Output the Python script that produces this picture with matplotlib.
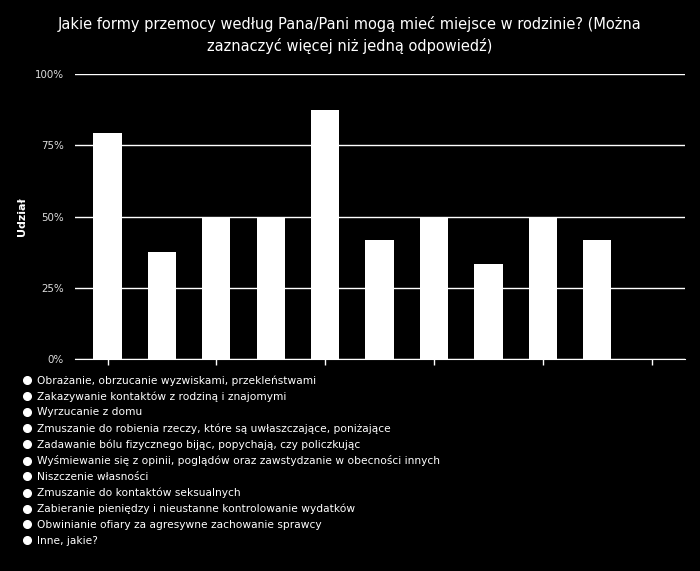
import matplotlib.pyplot as plt
from matplotlib.lines import Line2D

categories = [
    'Obrażanie, obrzucanie wyzwiskami, przekleństwami',
    'Zakazywanie kontaktów z rodziną i znajomymi',
    'Wyrzucanie z domu',
    'Zmuszanie do robienia rzeczy, które są uwłaszczające, poniżające',
    'Zadawanie bólu fizycznego bijąc, popychają, czy policzkując',
    'Wyśmiewanie się z opinii, poglądów oraz zawstydzanie w obecności innych',
    'Niszczenie własności',
    'Zmuszanie do kontaktów seksualnych',
    'Zabieranie pieniędzy i nieustanne kontrolowanie wydatków',
    'Obwinianie ofiary za agresywne zachowanie sprawcy',
    'Inne, jakie?',
]
shares = [79.2, 37.5, 50.0, 50.0, 87.5, 41.7, 50.0, 33.3, 50.0, 41.7, 0.0]
yticks = [0, 25, 50, 75, 100]
ytick_labels = ['0%', '25%', '50%', '75%', '100%']
title = ('Jakie formy przemocy według Pana/Pani mogą mieć miejsce w rodzinie? (Można\n'
         'zaznaczyć więcej niż jedną odpowiedź)')

fig = plt.figure(figsize=(7, 5.71), dpi=100, facecolor='black')
ax = fig.add_axes([0.107, 0.371, 0.872, 0.499])
ax.set_facecolor('black')

x = list(range(len(categories)))
ax.bar(x, shares, width=0.52, color='white', zorder=3)

ax.set_xlim(-0.6, 10.62)
ax.set_ylim(0, 100)
ax.set_yticks(yticks)
ax.set_yticklabels(ytick_labels, color='#dddddd', fontsize=7.4)
ax.yaxis.grid(True, color='white', linewidth=1)
ax.tick_params(axis='y', length=0, pad=8)
ax.set_xticks(x[::2])
ax.set_xticklabels([])
ax.tick_params(axis='x', color='white', length=4, width=1, direction='out')
for s in ['left', 'right', 'top']:
    ax.spines[s].set_visible(False)
ax.spines['bottom'].set_color('white')
ax.set_ylabel('Udział', color='white', fontsize=8, fontweight='bold')
ax.yaxis.set_label_coords(-0.078, 0.5)

fig.suptitle(title, color='white', fontsize=10.5, y=0.972, linespacing=1.5)

handles = [Line2D([], [], marker='o', linestyle='none', markersize=5.5,
                  markerfacecolor='white', markeredgecolor='white')
           for _ in categories]
fig.legend(handles, categories, loc='upper left', bbox_to_anchor=(0.034, 0.343),
           frameon=False, fontsize=7.7, labelcolor='white', handlelength=0.6,
           handletextpad=0.6, labelspacing=0.53, borderpad=0, borderaxespad=0)

fig.savefig('out.png', dpi=100, facecolor='black')
